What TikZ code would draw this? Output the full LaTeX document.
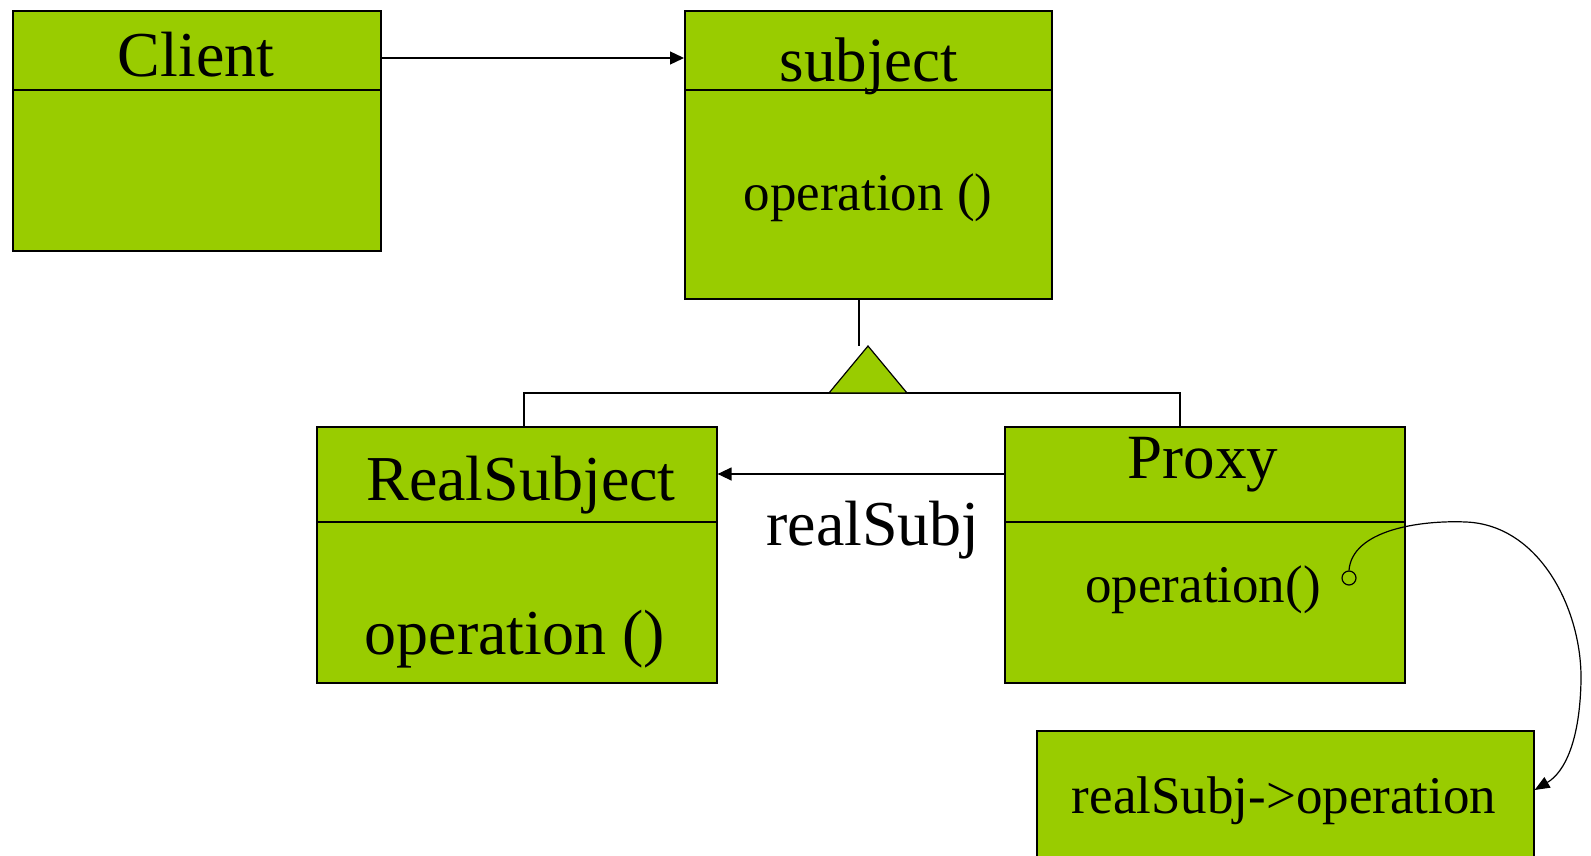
\documentclass[tikz,border=0pt]{standalone}
\usepackage{fontspec}
\setmainfont{Liberation Serif}
\usetikzlibrary{arrows.meta}
\definecolor{umlgreen}{RGB}{153,204,0}
\newcommand\fsz[1]{\fontsize{#1}{#1}\selectfont}
\begin{document}
\begin{tikzpicture}[x=1pt,y=-1pt,
  classbox/.style={draw=black, line width=1.6pt, fill=umlgreen, rectangle,
    inner sep=0pt, anchor=north west},
  rule/.style={draw=black, line width=1.4pt},
  conn/.style={draw=black, line width=1.3pt},
  arr/.style={conn, -{Triangle[length=14pt,width=13pt]}},
  lbl/.style={inner sep=0pt, anchor=base, text=black}]
\useasboundingbox (0,0) rectangle (1591,856);
\clip (0,0) rectangle (1591,856);

% class boxes
\node[classbox, minimum width=368pt, minimum height=240pt] (client) at (12,10) {};
\node[classbox, minimum width=367pt, minimum height=288pt] (subject) at (684,10) {};
\node[classbox, minimum width=400pt, minimum height=256pt] (real) at (316,426) {};
\node[classbox, minimum width=400pt, minimum height=256pt] (proxy) at (1004,426) {};
\node[classbox, minimum width=497pt, minimum height=150pt] (impl) at (1036,730) {};

% compartment dividers
\draw[rule] (client.west |- 0,90) -- (client.east |- 0,90);
\draw[rule] (subject.west |- 0,90) -- (subject.east |- 0,90);
\draw[rule] (real.west |- 0,522) -- (real.east |- 0,522);
\draw[rule] (proxy.west |- 0,522) -- (proxy.east |- 0,522);

% class names and operations
\node[lbl] (clientname) at (196,77) {\fsz{64}Client};
\node[lbl] (subjectname) at (869,82) {\fsz{63}subject};
\node[lbl] (subjectop) at (868,211) {\fsz{53}operation ()};
\node[lbl] (realname) at (521,500) {\fsz{64}RealSubject};
\node[lbl] (realop) at (515,654) {\fsz{64}operation ()};
\node[lbl] (proxyname) at (1203,478) {\fsz{63}Proxy};
\node[lbl] (proxyop) at (1203,602) {\fsz{53}operation()};
\node[lbl] (implcode) at (1284,813) {\fsz{53}realSubj->operation};
\node[lbl] (assoc) at (873,545) {\fsz{64}realSubj};

% client uses subject
\draw[arr] (client.east |- 0,58) -- (subject.west |- 0,58);

% generalization
\coordinate (apex) at (868,346);
\draw[conn] (subject.south -| 859,0) -- (859,346);
\draw[conn] (real.north -| 524,0) -- (524,393) -- (1180,393) -- (proxy.north -| 1180,0);
\draw[draw=black, line width=1.2pt, fill=umlgreen, line join=miter]
  (apex) -- (907,393) -- (829,393) -- cycle;

% proxy holds realSubj
\draw[arr] (proxy.west |- 0,474) -- (real.east |- 0,474);

% note link from operation() to its body
\node[draw=black, line width=1.2pt, circle, inner sep=0pt, minimum size=14pt] (dot) at (1349,578) {};
\coordinate (tip) at (impl.east |- 0,790);
\draw[conn, line width=1.2pt, -{Triangle[length=15pt,width=12pt]}]
  (dot.north) .. controls (1352,530) and (1420,520) .. (1466,522)
  .. controls (1540,525) and (1582,610) .. (1581,680)
  .. controls (1580,740) and (1565,772) .. (tip);
\end{tikzpicture}
\end{document}
